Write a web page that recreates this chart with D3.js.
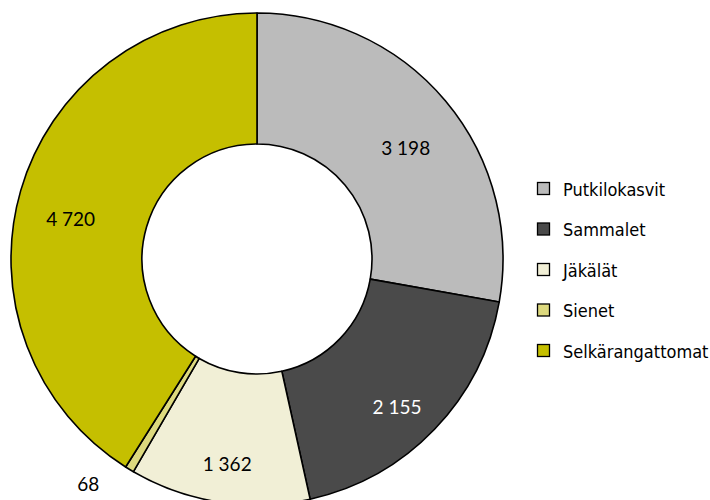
<!DOCTYPE html>
<html>
<head>
<meta charset="utf-8">
<script src="https://cdn.jsdelivr.net/npm/d3@7"></script>
<style>
  html, body { margin: 0; padding: 0; background: #fff; }
  svg { display: block; }
</style>
</head>
<body>
<svg id="chart" width="710" height="500"></svg>
<script>
// Lajimäärät eliöryhmittäin
const categories = ["Putkilokasvit", "Sammalet", "Jäkälät", "Sienet", "Selkärangattomat"];
const values = [3198, 2155, 1362, 68, 4720];
const valueLabels = ["3 198", "2 155", "1 362", "68", "4 720"];
const colors = ["#BBBBBB", "#4A4A4A", "#F1EFD6", "#DDD97E", "#C5BF00"];
const labelColors = ["#000", "#fff", "#000", "#000", "#000"];

const svg = d3.select("#chart");
const cx = 257, cy = 259, outerR = 246, innerR = 115;

const data = categories.map((c, i) => ({ name: c, value: values[i], label: valueLabels[i], i }));

const pie = d3.pie().value(d => d.value).sort(null);
const arc = d3.arc().innerRadius(innerR).outerRadius(outerR);
const arcs = pie(data);

const g = svg.append("g").attr("transform", `translate(${cx},${cy})`);

g.selectAll("path.slice")
  .data(arcs)
  .join("path")
  .attr("class", "slice")
  .attr("d", arc)
  .attr("fill", d => colors[d.data.i])
  .attr("stroke", "#000")
  .attr("stroke-width", 1.6)
  .attr("stroke-linejoin", "round");

// Value labels: inside the ring for large slices, outside for tiny ones
const labelArc = d3.arc().innerRadius(194).outerRadius(194);
const outsideArc = d3.arc().innerRadius(262).outerRadius(262);

g.selectAll("text.val")
  .data(arcs)
  .join("text")
  .attr("class", "val")
  .each(function(d) {
    const small = (d.endAngle - d.startAngle) < 0.1;
    const [x, y] = small ? outsideArc.centroid(d) : labelArc.centroid(d);
    d3.select(this)
      .attr("x", small ? x - 22 : x)
      .attr("y", small ? y : y + 13)
      .attr("text-anchor", small ? "end" : "middle")
      .attr("fill", labelColors[d.data.i]);
  })
  .attr("dominant-baseline", "central")
  .attr("font-family", "Lato, 'Open Sans', sans-serif")
  .attr("font-size", 19)
  .text(d => d.data.label);

// Legend
const legend = svg.append("g").attr("transform", "translate(537,189)");
const rowH = 40.5;
const item = legend.selectAll("g.item")
  .data(data)
  .join("g")
  .attr("class", "item")
  .attr("transform", (d, i) => `translate(0,${i * rowH})`);

item.append("rect")
  .attr("x", 0.5).attr("y", -6.5)
  .attr("width", 12).attr("height", 12)
  .attr("fill", d => colors[d.i])
  .attr("stroke", "#000")
  .attr("stroke-width", 1.3);

item.append("text")
  .attr("x", 26)
  .attr("y", 0)
  .attr("dominant-baseline", "central")
  .attr("font-family", "'DejaVu Sans Condensed', 'DejaVu Sans', sans-serif")
  .attr("font-stretch", "condensed")
  .attr("font-size", 18)
  .attr("fill", "#000")
  .text(d => d.name);
</script>
</body>
</html>
